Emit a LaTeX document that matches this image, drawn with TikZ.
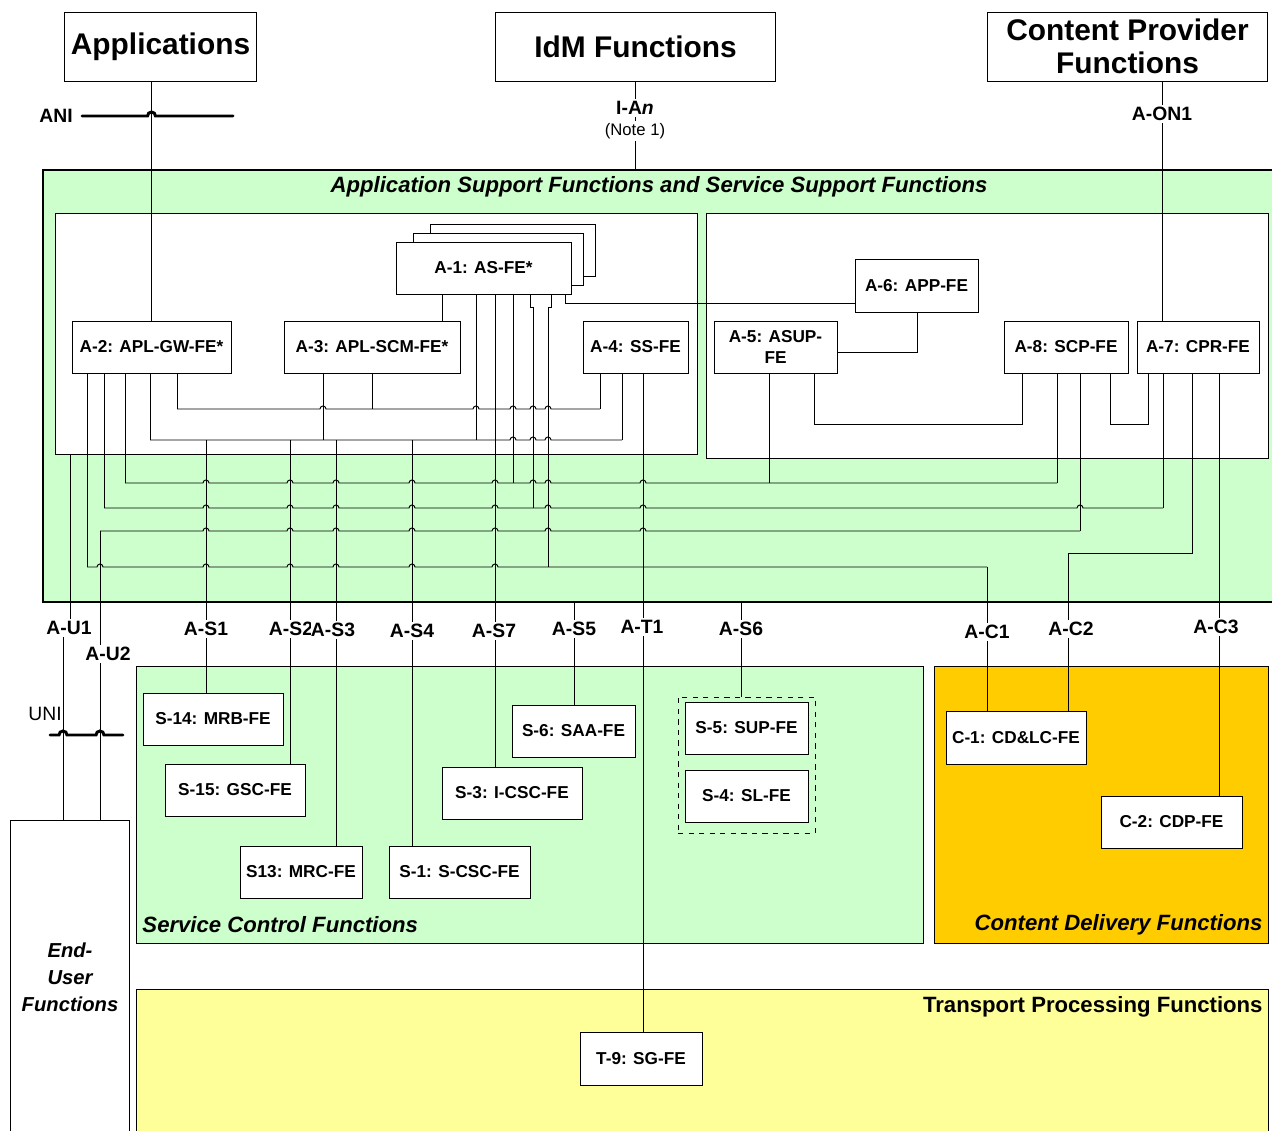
\documentclass[tikz,border=0pt]{standalone}
\usepackage{fontspec}
\setmainfont{Liberation Sans}
\usetikzlibrary{positioning}
\definecolor{asgreen}{HTML}{CCFFCC}
\definecolor{cdorange}{HTML}{FFCC00}
\definecolor{tpyellow}{HTML}{FFFF99}
\newcommand{\fefont}{\bfseries\fontsize{9.8}{12}\selectfont}
\newcommand{\reffont}{\bfseries\fontsize{11}{13}\selectfont}
\newcommand{\areafont}{\bfseries\itshape\fontsize{12.6}{15.3}\selectfont}
% horizontal bus: y, x from, x to, list of hops
\newcommand{\busline}[4]{%
  \draw (#2,#1) \foreach \h in {#4}{ -- (\h-3,#1) arc[start angle=180,end angle=0,radius=0.06cm]} -- (#3,#1);}
\tikzset{
  fe/.style={draw, fill=white, inner sep=1pt, align=center, font=\fefont, minimum height=1.04cm},
  topbox/.style={draw, fill=white, inner sep=1pt, align=center, font=\bfseries\fontsize{17}{19}\selectfont, minimum height=1.38cm, minimum width=5.62cm},
  reflabel/.style={fill=white, inner xsep=0pt, inner ysep=1.5pt, font=\reffont},
  area/.style={draw, anchor=north west, inner sep=0pt},
}
\begin{document}
\begin{tikzpicture}[x=0.02cm,y=-0.02cm,line width=0.55pt]
\useasboundingbox (0,0) rectangle (1272,1131);

% top functions
\node[topbox, minimum width=3.86cm] (apps) at (160.5,46.5) {Applications};
\node[topbox] (idm) at (635.5,46.5) {IdM Functions};
\node[topbox] (cpf) at (1127.5,46.5) {Content Provider\\Functions};

% application and service support area
\fill[asgreen] (43,170) rectangle (1290,602);
\draw[line width=1.7pt] (1290,170) -- (43,170) -- (43,602) -- (1290,602);
\node[font=\areafont] (astitle) at (659,187) {Application Support Functions and Service Support Functions};
\draw[fill=white] (55,213) rectangle (697,454);
\draw[fill=white] (706,213) rectangle (1268,458);

% lower areas
\node[area, fill=asgreen, minimum width=15.74cm, minimum height=5.54cm] (scf) at (136,666) {};
\node[area, fill=cdorange, minimum width=6.68cm, minimum height=5.54cm] (cdf) at (934,666) {};
\node[area, fill=tpyellow, minimum width=22.64cm, minimum height=3.2cm] (tpf) at (136,989) {};
\node[area, fill=white, minimum width=2.38cm, minimum height=6.4cm] (eu) at (10,820) {};
\node[font=\areafont, anchor=west, inner xsep=0pt] (scftitle) at (142,925) {Service Control Functions};
\node[font=\areafont, anchor=east, inner xsep=0pt] (cdftitle) at (1263,925) {Content Delivery Functions};
\node[font=\bfseries\fontsize{12.6}{14}\selectfont, anchor=east, inner xsep=0pt] (tpftitle) at (1263,1007) {Transport Processing Functions};
\node[font=\bfseries\itshape\fontsize{11.5}{15.3}\selectfont, align=center] (eutitle) at (70,977) {End-\\User\\Functions};

% A functional entities
\draw[fill=white] (430,224) rectangle (595,276);
\draw[fill=white] (413,233) rectangle (583,285);
\node[fe, minimum width=3.5cm] (a1) at (483.5,268) {A-1: AS-FE*};
\node[fe, minimum width=3.18cm] (a2) at (151.5,347) {A-2: APL-GW-FE*};
\node[fe, minimum width=3.52cm] (a3) at (372,347) {A-3: APL-SCM-FE*};
\node[fe, minimum width=2.1cm] (a4) at (635.5,347) {A-4: SS-FE};
\node[fe, minimum width=2.46cm, minimum height=1.06cm] (a6) at (916.5,285.5) {A-6: APP-FE};
\node[fe, minimum width=2.46cm] (a5) at (775.5,347) {A-5: ASUP-\\FE};
\node[fe, minimum width=2.48cm] (a8) at (1066,347) {A-8: SCP-FE};
\node[fe, minimum width=2.44cm] (a7) at (1198,347) {A-7: CPR-FE};

% S, C and T functional entities
\node[fe, minimum width=2.8cm] (s14) at (213,719) {S-14: MRB-FE};
\node[fe, minimum width=2.8cm] (s15) at (235,790) {S-15: GSC-FE};
\node[fe, minimum width=2.44cm] (s13) at (301,872) {S13: MRC-FE};
\node[fe, minimum width=2.82cm] (s1) at (459.5,872) {S-1: S-CSC-FE};
\node[fe, minimum width=2.8cm] (s3) at (512,793) {S-3: I-CSC-FE};
\node[fe, minimum width=2.46cm] (s6) at (573.5,731) {S-6: SAA-FE};
\node[draw, dashed, minimum width=2.74cm, minimum height=2.72cm] (slgroup) at (746.5,765) {};
\node[fe, minimum width=2.46cm] (s5) at (746.5,728) {S-5: SUP-FE};
\node[fe, minimum width=2.46cm] (s4) at (746.5,796) {S-4: SL-FE};
\node[fe, minimum width=2.8cm, minimum height=1.06cm] (c1) at (1016,737.5) {C-1: CD\&LC-FE};
\node[fe, minimum width=2.82cm] (c2) at (1171.5,822) {C-2: CDP-FE};
\node[fe, minimum width=2.44cm, minimum height=1.06cm] (t9) at (641,1058.5) {T-9: SG-FE};

% reference points above the area
\draw (apps.south -| a2.north) -- (a2.north);
\draw (idm.south) -- (idm.south |- 0,170);
\draw (cpf.south -| 1162,0) -- (a7.north -| 1162,0);
\draw[line width=1.7pt, line cap=round] (82,116) -- (147.5,116) arc[start angle=180,end angle=0,radius=0.08cm] -- (233,116);
\node[reflabel, inner xsep=1.5pt] (ani) at (56,116) {ANI};
\node[reflabel, inner xsep=1.5pt] (ian) at (635,108) {I-A\textit{n}};
\node[fill=white, inner sep=1pt, font=\fontsize{9.5}{11}\selectfont] (note1) at (635,131) {(Note 1)};
\node[reflabel] (aon1) at (1162,114) {A-ON1};

% left part
\draw (a1.south -| 442,0) -- (a3.north -| 442,0);
\draw (a1.south -| 565,0) |- (a6.west |- 0,303);
\draw (a2.south -| 87,0) -- (87,567);
\draw (a2.south -| 104,0) -- (104,508);
\draw (a2.south -| 125,0) -- (125,483);
\draw (a2.south -| 150,0) -- (150,440);
\draw (a2.south -| 177,0) -- (177,409);
\draw (a3.south -| 323,0) -- (323,440);
\draw (a3.south -| 372,0) -- (372,409);
\draw (a4.south -| 600,0) -- (600,409);
\draw (a4.south -| 622,0) -- (622,440);
\draw (a4.south -| 643,0) -- (t9.north -| 643,0);
\draw (a1.south -| 476,0) -- (476,440);
\draw (a1.south -| 495,0) -- (s3.north -| 495,0);
\draw (a1.south -| 513,0) -- (513,483);
\draw (a1.south -| 530,0) -- (530,307) -- (533,307) -- (533,508);
\draw (a1.south -| 551,0) -- (551,307) -- (548,307) -- (548,567);
\busline{409}{177}{600}{323,476,513,533,548}
\busline{440}{150}{622}{513,533,548}
\draw (206,440) -- (s14.north -| 206,0);
\draw (290,440) -- (s15.north -| 290,0);
\draw (336,440) -- (s13.north -| 336,0);
\draw (412,440) -- (s1.north -| 412,0);

% right part
\draw (a6.south -| 917,0) |- (a5.east |- 0,352);
\draw (a5.south -| 814,0) -- (814,424) -- (1022,424) -- (a8.south -| 1022,0);
\draw (a5.south -| 769,0) -- (769,483);
\draw (a8.south -| 1057,0) -- (1057,483);
\draw (a8.south -| 1080,0) -- (1080,531);
\draw (a8.south -| 1110,0) -- (1110,424) -- (1148,424) -- (a7.south -| 1148,0);
\draw (a7.south -| 1163,0) -- (1163,508);
\draw (a7.south -| 1192,0) -- (1192,553) -- (1068,553) -- (c1.north -| 1068,0);
\draw (a7.south -| 1219,0) -- (c2.north -| 1219,0);

% buses
\busline{483}{125}{1057}{206,290,336,412,495,533,548,643}
\busline{508}{104}{1163}{206,290,336,412,495,548,643,1080}
\busline{531}{100}{1080}{206,290,336,412,495,548,643}
\busline{567}{87}{987}{100,206,290,336,412,495}
\draw (987,567) -- (c1.north -| 987,0);
\draw (574,602) -- (s6.north -| 574,0);
\draw (741,602) -- (slgroup.north -| 741,0);

% user side
\draw (70,454) -- (70,628);
\draw (63,628) -- (eu.north -| 63,0);
\draw (100,531) -- (eu.north -| 100,0);
\draw[line width=1.7pt, line cap=round] (50,735) -- (59,735) arc[start angle=180,end angle=0,radius=0.08cm] -- (96,735) arc[start angle=180,end angle=0,radius=0.08cm] -- (123,735);
\node[font=\fontsize{11}{13}\selectfont] (uni) at (45,714) {UNI};

% reference point labels
\node[reflabel] (au1) at (69,628) {A-U1};
\node[reflabel] (au2) at (108,654) {A-U2};
\node[reflabel] (as1) at (206,629) {A-S1};
\node[reflabel] (as2) at (291,629) {A-S2};
\node[reflabel] (as3) at (333,630) {A-S3};
\node[reflabel] (as4) at (412,631) {A-S4};
\node[reflabel] (as7) at (494,631) {A-S7};
\node[reflabel] (as5) at (574,629) {A-S5};
\node[reflabel] (at1) at (642,627) {A-T1};
\node[reflabel] (as6) at (741,629) {A-S6};
\node[reflabel] (ac1) at (987,632) {A-C1};
\node[reflabel] (ac2) at (1071,629) {A-C2};
\node[reflabel] (ac3) at (1216,627) {A-C3};
\end{tikzpicture}
\end{document}
